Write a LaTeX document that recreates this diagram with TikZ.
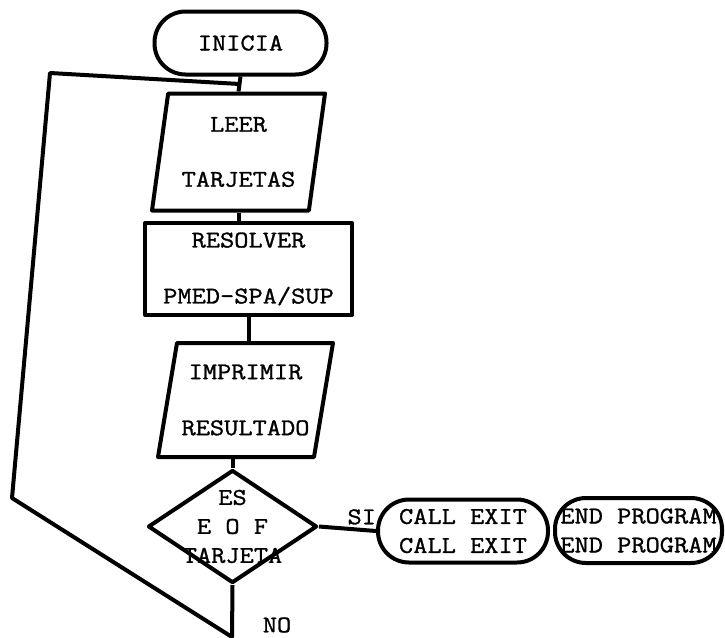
\documentclass[tikz,border=0pt]{standalone}
\usepackage{fontspec}
\setmonofont[FakeStretch=1.15,FakeBold=1.2]{Latin Modern Mono}
\usepackage{tikz}
\usetikzlibrary{shapes.geometric,calc}

\begin{document}
\begin{tikzpicture}[x=1pt,y=-1pt,line width=4pt,line join=round,
  font=\ttfamily\fontsize{24}{29}\selectfont,
  term/.style={draw,rectangle,rounded corners=31pt,minimum width=172pt,minimum height=63pt,inner sep=0pt,align=center},
  io/.style={draw,trapezium,trapezium left angle=77,trapezium right angle=103,trapezium stretches body,inner sep=0pt,align=center},
  proc/.style={draw,rectangle,inner sep=0pt,align=center},
  cond/.style={draw,diamond,inner sep=0pt,minimum width=169pt,minimum height=113pt}]
\useasboundingbox (0,0) rectangle (725,637);

\node[term] (n0) at (240.5,43) {INICIA};
\node[io,minimum width=173pt,minimum height=117pt] (n1) at (238.5,152) {LEER\\[26pt]TARJETAS};
\node[proc,minimum width=207pt,minimum height=92pt] (n2) at (248.5,269) {RESOLVER\\[27pt]PMED-SPA/SUP};
\node[io,trapezium left angle=75,trapezium right angle=105,minimum width=175pt,minimum height=114pt] (n3) at (245.5,400) {IMPRIMIR\\[27pt]RESULTADO};
\node[cond,label={[align=center]center:ES\\E O F\\TARJETA}] (n4) at (232.5,526.5) {};
\node[term,minimum width=170pt] (n5) at (463,531) {CALL EXIT\\CALL EXIT};
\node[term,minimum width=167pt,minimum height=65pt] (n6) at (638.5,530.5) {END PROGRAM\\END PROGRAM};

\coordinate (c0) at (232,637);
\coordinate (c1) at (12,498);
\coordinate (c2) at (50,73);
\coordinate (c3) at ($(n0.south)!.5!(n1.north)$);

\draw (n0.south) -- (n1.north);
\draw (n1.south) -- (n1.south |- n2.north);
\draw (n2.south) -- (n2.south |- n3.north);
\draw (n3.south -| n4.north) -- (n4.north);
\path (n4.east) edge node[pos=.75,above] {SI} (n5.west);

% regreso a leer
\draw (n4.south) -- (c0) -- (c1) -- (c2) -- (c3);
\node[inner sep=1pt] (no) at (277,625) {NO};
\end{tikzpicture}
\end{document}
